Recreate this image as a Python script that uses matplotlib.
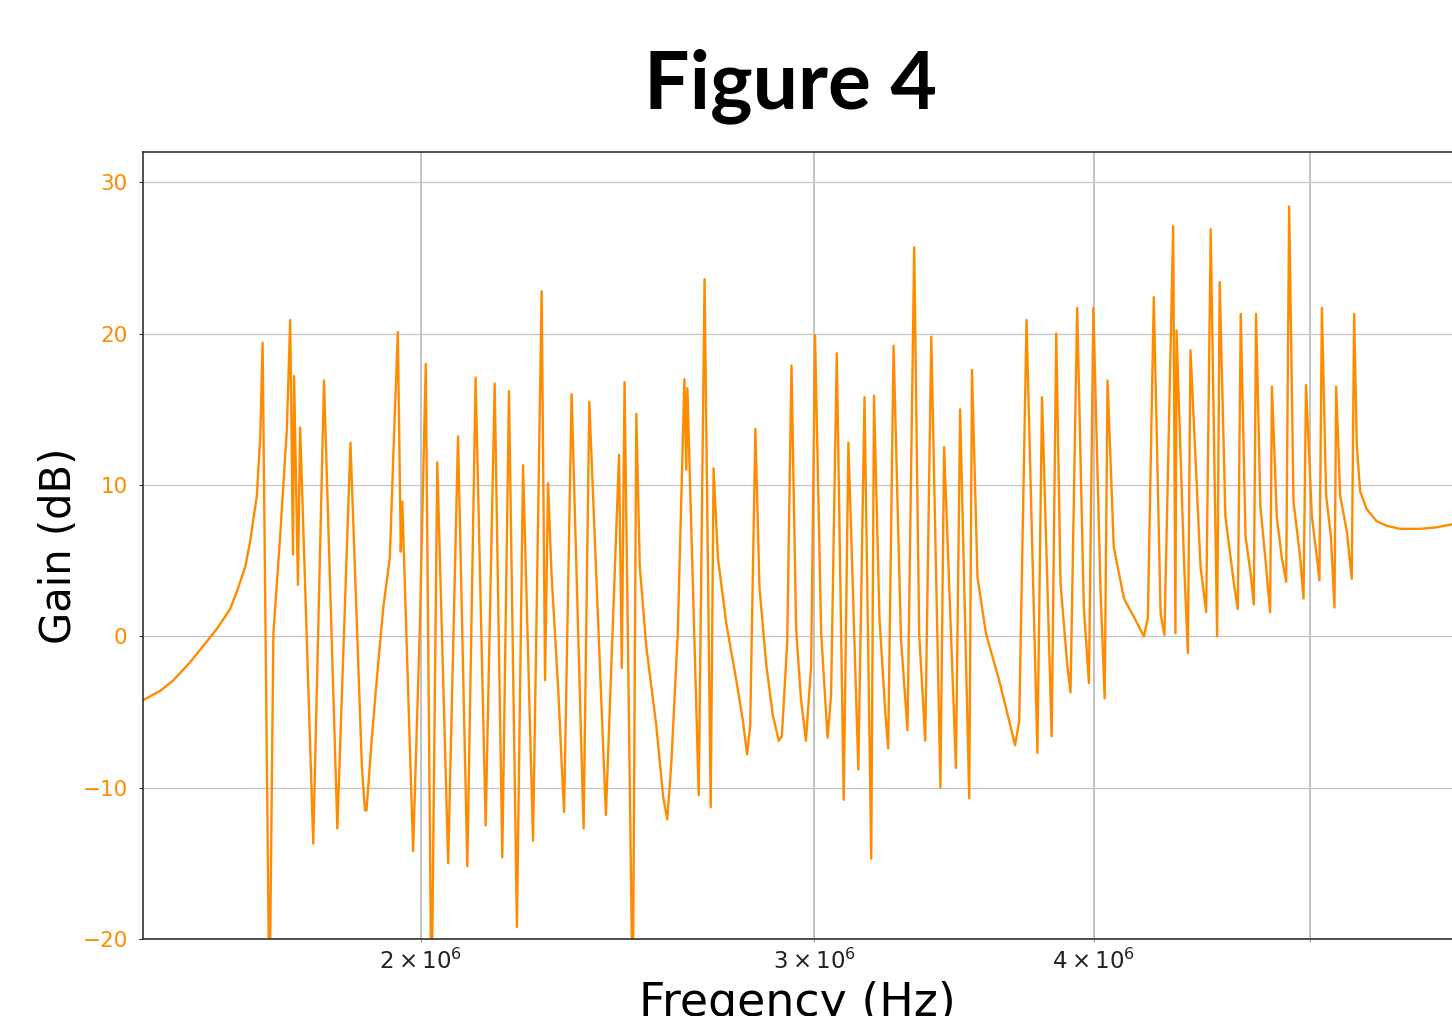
import numpy as np
import matplotlib
matplotlib.use("Agg")
import matplotlib.pyplot as plt
from matplotlib.ticker import FixedLocator, NullFormatter

freq_mhz = [
    1.503, 1.529, 1.550, 1.577, 1.621, 1.643, 1.654, 1.669, 1.677, 1.682,
    1.689, 1.695, 1.699, 1.711,
    1.718, 1.730, 1.742, 1.748, 1.753, 1.755, 1.762, 1.766, 1.790, 1.810,
    1.835, 1.860, 1.882, 1.888, 1.891, 1.901, 1.911, 1.924, 1.937, 1.944,
    1.953, 1.959, 1.962, 1.984, 1.998, 2.010, 2.022, 2.034, 2.057, 2.078,
    2.098, 2.116, 2.138, 2.158, 2.175, 2.190, 2.208, 2.222, 2.245, 2.265,
    2.273, 2.280, 2.288, 2.304, 2.312, 2.318, 2.336, 2.365, 2.379, 2.420,
    2.453, 2.460, 2.467, 2.488, 2.497, 2.506, 2.523, 2.549, 2.567, 2.578,
    2.589, 2.606, 2.624, 2.629, 2.632, 2.663, 2.679, 2.696, 2.704, 2.716,
    2.740, 2.768, 2.787, 2.799, 2.808, 2.823, 2.835, 2.855, 2.874, 2.892,
    2.901, 2.917, 2.930, 2.944, 2.959, 2.974, 2.990, 3.002, 3.021, 3.041,
    3.052, 3.070, 3.092, 3.107, 3.139, 3.159, 3.181, 3.190, 3.208, 3.227,
    3.237, 3.255, 3.280, 3.302, 3.325, 3.342, 3.363, 3.384, 3.416, 3.429,
    3.471, 3.486, 3.519, 3.529, 3.549, 3.580, 3.629, 3.667, 3.689, 3.705,
    3.733, 3.775, 3.793, 3.831, 3.849, 3.866, 3.893, 3.906, 3.933, 3.960,
    3.981, 3.999, 4.029, 4.046, 4.058, 4.084, 4.127, 4.169, 4.213, 4.230,
    4.256, 4.286, 4.303, 4.342, 4.352, 4.357, 4.390, 4.408, 4.420, 4.466,
    4.492, 4.513, 4.543, 4.555, 4.582, 4.622, 4.641, 4.655, 4.678, 4.702,
    4.718, 4.729, 4.750, 4.774, 4.798, 4.807, 4.831, 4.856, 4.878, 4.893,
    4.915, 4.949, 4.966, 4.979, 5.009, 5.035, 5.048, 5.061, 5.083, 5.108,
    5.127, 5.136, 5.157, 5.193, 5.219, 5.232, 5.246, 5.264, 5.300, 5.355,
    5.411, 5.485, 5.599, 5.696, 5.787,
]
gain_db = [
    -4.2, -3.6, -2.9, -1.7, 0.5, 1.8, 2.9, 4.6, 6.2, 7.5,
    9.3, 13.3, 19.4, -25.0,
    0.2, 6.6, 13.7, 20.9, 5.4, 17.2, 3.4, 13.8, -13.7, 16.9,
    -12.7, 12.8, -8.6, -11.5, -11.5, -6.9, -2.9, 1.9, 5.2, 12.0,
    20.1, 5.6, 8.9, -14.2, 0.8, 18.0, -25.0, 11.5, -15.0, 13.2,
    -15.2, 17.1, -12.5, 16.7, -14.6, 16.2, -19.2, 11.3, -13.5, 22.8,
    -2.9, 10.1, 4.2, -3.5, -8.3, -11.6, 16.0, -12.7, 15.5, -11.8,
    12.0, -2.1, 16.8, -25.0, 14.7, 4.6, -0.7, -5.9, -10.6, -12.1,
    -8.3, 0.2, 17.0, 11.0, 16.4, -10.5, 23.6, -11.3, 11.1, 5.2,
    0.8, -2.9, -5.6, -7.8, -5.9, 13.7, 3.2, -1.9, -5.2, -6.9,
    -6.6, -0.5, 17.9, 0.5, -4.2, -6.9, -1.9, 19.9, 0.2, -6.7,
    -3.9, 18.7, -10.8, 12.8, -8.8, 15.8, -14.7, 15.9, 1.2, -4.9,
    -7.4, 19.2, -0.2, -6.2, 25.7, 0.2, -6.9, 19.8, -10.0, 12.5,
    -8.7, 15.0, -10.7, 17.6, 3.9, 0.2, -2.9, -5.6, -7.2, -5.6,
    20.9, -7.7, 15.8, -6.6, 20.0, 3.5, -1.9, -3.7, 21.7, 1.9,
    -3.1, 21.7, 2.9, -4.1, 16.9, 5.9, 2.5, 1.3, 0.0, 1.2,
    22.4, 1.5, 0.1, 27.1, 0.2, 20.2, 5.2, -1.1, 18.9, 4.6,
    1.6, 26.9, 0.0, 23.4, 7.9, 3.5, 1.8, 21.3, 6.6, 4.2,
    2.1, 21.3, 8.6, 5.2, 1.6, 16.5, 7.9, 5.2, 3.6, 28.4,
    8.9, 5.2, 2.5, 16.6, 7.9, 5.2, 3.7, 21.7, 9.3, 6.6,
    1.9, 16.5, 9.3, 6.9, 3.8, 21.3, 12.7, 9.6, 8.4, 7.6,
    7.3, 7.1, 7.1, 7.2, 7.4,
]

y_ticks = [-20, -10, 0, 10, 20, 30]
x_ticks = [2e6, 3e6, 4e6, 5e6]
x_tick_labels = [r"$2\times10^{6}$", r"$3\times10^{6}$", r"$4\times10^{6}$", ""]

orange = "#ff8c00"

fig = plt.figure(figsize=(14.52, 10.16), dpi=100)
ax = fig.add_axes([143 / 1452, 1 - 939 / 1016, 1 - 143 / 1452, (939 - 152) / 1016])

freq = np.array(freq_mhz) * 1e6
ax.plot(freq, gain_db, color=orange, lw=1.7)

ax.set_xscale("log")
ax.set_xlim(freq[0] - 1e3, freq[-1])
ax.set_ylim(-20, 32)

# x ticks: only the 2,3,4,5 x 10^6 positions carry grid lines
ax.xaxis.set_major_locator(FixedLocator([]))
ax.xaxis.set_minor_locator(FixedLocator(x_ticks))
ax.xaxis.set_minor_formatter(NullFormatter())
ax.set_xticks(x_ticks, minor=True)
ax.set_xticklabels(x_tick_labels, minor=True)
ax.tick_params(axis="x", which="minor", length=2, pad=5, labelsize=16.5,
               labelcolor="#222222", color="#888888")
ax.set_yticks(y_ticks)
ax.tick_params(axis="y", length=3, pad=8, labelsize=15.5, labelcolor=orange,
               color="#333333")

ax.grid(True, axis="x", which="minor", color="#bdbdbd", lw=1.3)
ax.grid(True, axis="y", which="major", color="#c4c4c4", lw=0.9)
ax.set_axisbelow(True)

for side in ["left", "top", "bottom"]:
    ax.spines[side].set_color("#333333")
    ax.spines[side].set_linewidth(1.2)
ax.spines["right"].set_visible(False)

ax.set_ylabel("Gain (dB)", fontsize=30, labelpad=2)
ax.set_xlabel("Freqency (Hz)", fontsize=33, labelpad=5)

fig.text(790 / 1452, 1 - 108 / 1016, "Figure 4", fontsize=58, fontweight="bold",
         family=["Lato", "DejaVu Sans"], ha="center", va="baseline")

fig.savefig("out.png", dpi=100)
